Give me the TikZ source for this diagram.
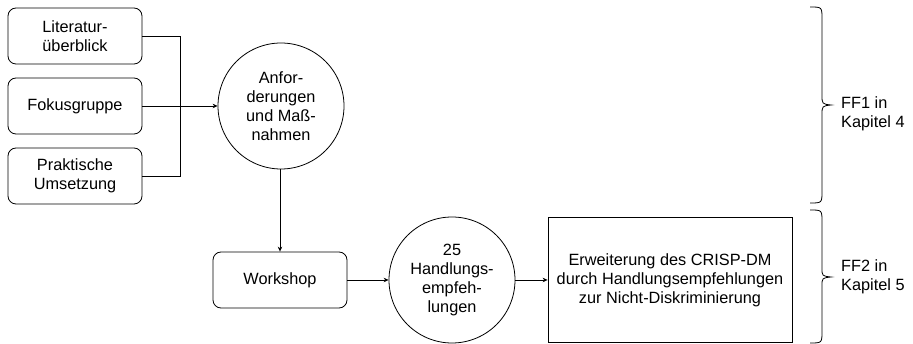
\documentclass[tikz,border=0pt]{standalone}
\usepackage{fontspec}
\setmainfont{Liberation Sans}
\usetikzlibrary{arrows.meta}
\begin{document}
\begin{tikzpicture}[x=1pt,y=-1pt,
  every node/.style={font=\fontsize{16.3}{19}\selectfont, align=center, inner sep=0pt},
  rbox/.style={draw, line width=0.8pt, rounded corners=8pt, minimum width=134pt, minimum height=56pt},
  circ/.style={draw, line width=0.8pt, circle, minimum size=126pt},
  sbox/.style={draw, line width=0.8pt, minimum width=244pt, minimum height=125pt},
  conn/.style={line width=0.7pt},
  arr/.style={conn, -{Stealth[length=5pt,width=4.5pt]}},
  brace/.style={line width=0.8pt}]
\useasboundingbox (0,0) rectangle (913,344);
\node[rbox] (b1) at (75,36) {Literatur-\\überblick};
\node[rbox] (b2) at (75,106) {Fokusgruppe};
\node[rbox] (b3) at (75,176) {Praktische\\Umsetzung};
\node[circ] (c1) at (281,106) {Anfor-\\derungen\\und Maß-\\nahmen};
\node[rbox] (w) at (280,280) {Workshop};
\node[circ] (c2) at (452,280) {25\\Handlungs-\\empfeh-\\lungen};
\node[sbox] (e) at (670,280) {Erweiterung des CRISP-DM\\durch Handlungsempfehlungen\\zur Nicht-Diskriminierung};
\coordinate (j) at (180,106);
\draw[conn] (b1.east) -| (j);
\draw[conn] (b3.east) -| (j);
\draw[arr] (b2.east) -- (c1.west);
\draw[arr] (c1.south -| w.north) -- (w.north);
\draw[arr] (w.east) -- (c2.west);
\draw[arr] (c2.east) -- (e.west);
% braces
\draw[brace] (810,7) .. controls (822,7) .. (822,19) -- (822,95) .. controls (822,104) .. (831,105)
  .. controls (822,106) .. (822,115) -- (822,191) .. controls (822,203) .. (810,203);
\draw[brace] (810,210) .. controls (822,210) .. (822,222) -- (822,268) .. controls (822,276) .. (831,277)
  .. controls (822,278) .. (822,286) -- (822,331) .. controls (822,343) .. (810,343);
\node[anchor=west, align=left] (f1) at (841,114) {FF1 in\\Kapitel 4};
\node[anchor=west, align=left] (f2) at (841,277) {FF2 in\\Kapitel 5};
\end{tikzpicture}
\end{document}
